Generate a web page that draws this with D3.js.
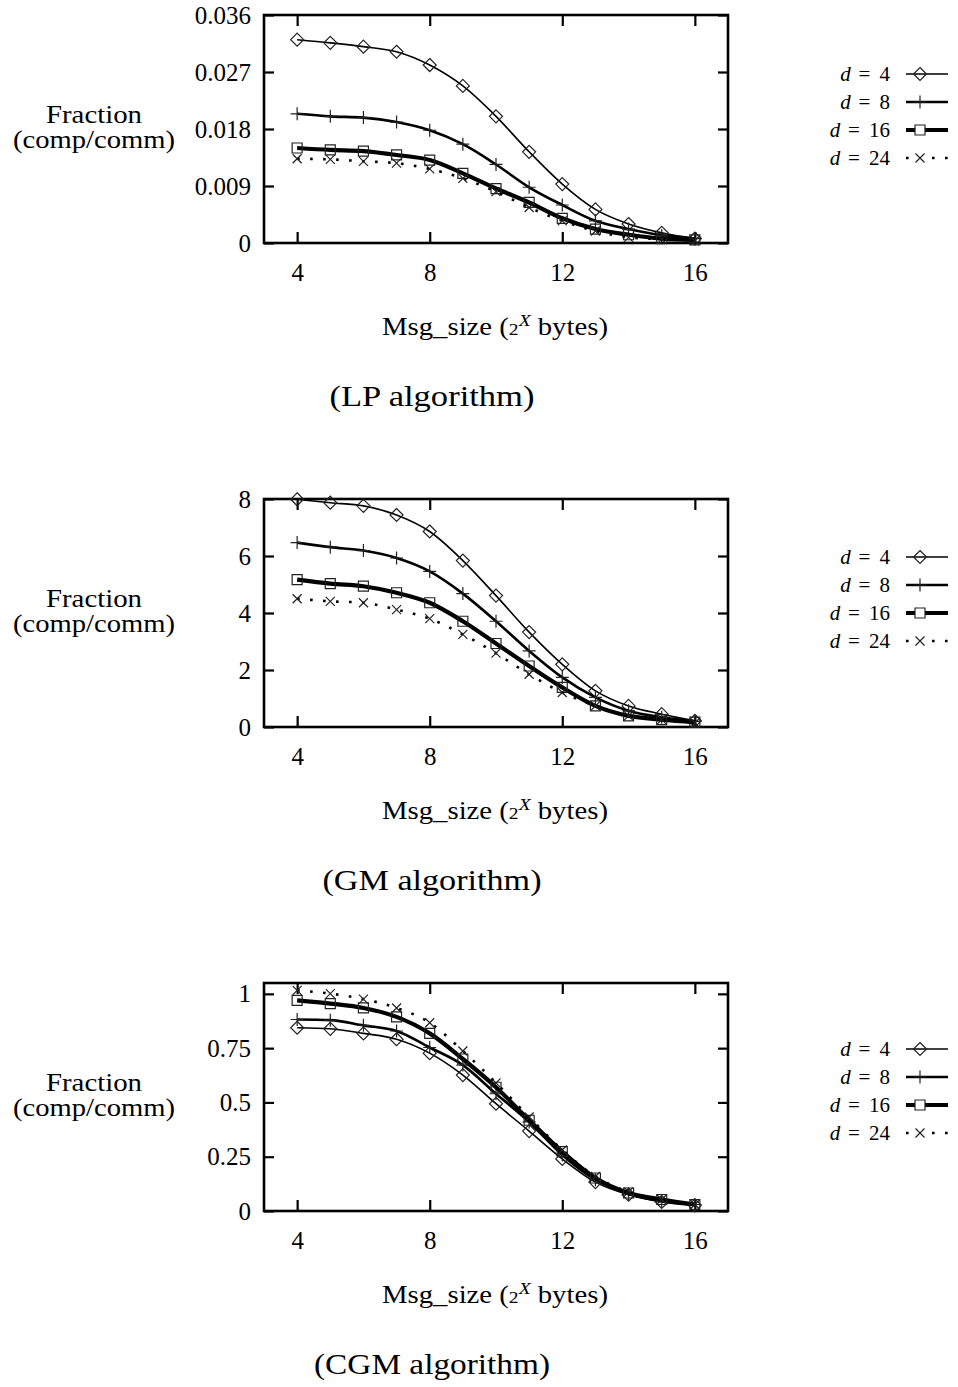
<!DOCTYPE html>
<html>
<head>
<meta charset="utf-8">
<script src="https://cdn.jsdelivr.net/npm/d3@7"></script>
<style>
  body { margin: 0; background: #fff; }
  text { font-family: "Liberation Serif", "DejaVu Serif", serif; fill: #000; }
</style>
</head>
<body>
<script>
var width = 958,
  height = 1387;

// x values: message size exponent
var msgSizes = [4, 5, 6, 7, 8, 9, 10, 11, 12, 13, 14, 15, 16];
var xTicks = [4, 8, 12, 16];

// LP algorithm
var lpD4 = [0.0321, 0.0316, 0.0310, 0.0302, 0.0281, 0.0248, 0.0200, 0.0144, 0.0093, 0.0053, 0.0030, 0.0016, 0.0007];
var lpD8 = [0.0204, 0.0200, 0.0198, 0.0191, 0.0178, 0.0156, 0.0124, 0.0088, 0.0060, 0.0035, 0.0022, 0.0012, 0.0007];
var lpD16 = [0.0150, 0.0147, 0.0145, 0.0139, 0.0131, 0.0110, 0.0086, 0.0064, 0.0039, 0.0022, 0.0013, 0.0007, 0.0005];
var lpD24 = [0.0133, 0.0132, 0.0129, 0.0126, 0.0117, 0.0102, 0.0081, 0.0056, 0.0035, 0.0019, 0.0009, 0.0006, 0.0004];
var lpTicks = [0, 0.009, 0.018, 0.027, 0.036];
var lpTickLabels = ["0", "0.009", "0.018", "0.027", "0.036"];

// GM algorithm
var gmD4 = [7.99, 7.87, 7.76, 7.44, 6.86, 5.84, 4.61, 3.33, 2.20, 1.27, 0.74, 0.45, 0.22];
var gmD8 = [6.47, 6.31, 6.19, 5.93, 5.46, 4.68, 3.71, 2.67, 1.74, 1.04, 0.57, 0.34, 0.20];
var gmD16 = [5.17, 5.03, 4.94, 4.71, 4.36, 3.71, 2.93, 2.14, 1.39, 0.74, 0.39, 0.26, 0.17];
var gmD24 = [4.50, 4.41, 4.36, 4.12, 3.80, 3.25, 2.59, 1.85, 1.21, 0.74, 0.39, 0.26, 0.14];
var gmTicks = [0, 2, 4, 6, 8];
var gmTickLabels = ["0", "2", "4", "6", "8"];

// CGM algorithm
var cgmD4 = [0.844, 0.839, 0.818, 0.791, 0.727, 0.626, 0.494, 0.368, 0.240, 0.133, 0.075, 0.042, 0.026];
var cgmD8 = [0.882, 0.879, 0.855, 0.829, 0.753, 0.672, 0.540, 0.410, 0.258, 0.144, 0.079, 0.045, 0.030];
var cgmD16 = [0.970, 0.955, 0.935, 0.894, 0.818, 0.700, 0.570, 0.418, 0.273, 0.152, 0.083, 0.053, 0.030];
var cgmD24 = [1.016, 1.001, 0.976, 0.935, 0.867, 0.737, 0.590, 0.433, 0.281, 0.159, 0.088, 0.053, 0.030];
var cgmTicks = [0, 0.25, 0.5, 0.75, 1];
var cgmTickLabels = ["0", "0.25", "0.5", "0.75", "1"];

var degrees = ["4", "8", "16", "24"];
var titles = ["(LP algorithm)", "(GM algorithm)", "(CGM algorithm)"];

// build panels from the arrays above
var panels = [
  { series: [lpD4, lpD8, lpD16, lpD24], ymax: 0.036, ticks: lpTicks, labels: lpTickLabels,
    top: 15, legendY: 74, title: titles[0], titleW: 205 },
  { series: [gmD4, gmD8, gmD16, gmD24], ymax: 8, ticks: gmTicks, labels: gmTickLabels,
    top: 499, legendY: 557, title: titles[1], titleW: 219 },
  { series: [cgmD4, cgmD8, cgmD16, cgmD24], ymax: 1.05, ticks: cgmTicks, labels: cgmTickLabels,
    top: 983, legendY: 1049, title: titles[2], titleW: 236 }
];

// line styles for d = 4, 8, 16, 24
var styles = [
  { w: 1.6, dash: null, marker: "M0,-6.5L6.5,0L0,6.5L-6.5,0Z" },
  { w: 2.6, dash: null, marker: "M-6.5,0H6.5M0,-6.5V6.5" },
  { w: 4.2, dash: null, marker: "M-5,-5H5V5H-5Z" },
  { w: 2.6, dash: "2.6,10.4", marker: "M-4.5,-4.5L4.5,4.5M4.5,-4.5L-4.5,4.5" }
];

var left = 264,
  right = 728,
  boxH = 228;

var svg = d3.select("body").append("svg").attr("width", width).attr("height", height);

var x = d3.scaleLinear().domain([3, 17]).range([left, right]);

panels.forEach(function (p) {
  var bottom = p.top + boxH;
  var y = d3.scaleLinear().domain([0, p.ymax]).range([bottom, p.top]);
  var g = svg.append("g");

  // axes (ticks point inward, mirrored on the other side)
  var yAxis = d3.axisLeft(y).tickValues(p.ticks)
    .tickFormat(function (d, i) { return p.labels[i]; })
    .tickSize(-10).tickPadding(13);
  var yAxisR = d3.axisRight(y).tickValues(p.ticks).tickFormat("").tickSize(-10);
  var xAxis = d3.axisBottom(x).tickValues(xTicks).tickSize(-11).tickPadding(20);
  var xAxisT = d3.axisTop(x).tickValues(xTicks).tickFormat("").tickSize(-11);

  g.append("g").attr("transform", "translate(" + left + ",0)").call(yAxis);
  g.append("g").attr("transform", "translate(" + right + ",0)").call(yAxisR);
  g.append("g").attr("transform", "translate(0," + bottom + ")").call(xAxis);
  g.append("g").attr("transform", "translate(0," + p.top + ")").call(xAxisT);

  g.selectAll(".domain").remove();
  g.selectAll(".tick line").attr("stroke", "#000").attr("stroke-width", 2.2);
  g.selectAll(".tick text")
    .attr("font-family", '"Liberation Serif", serif')
    .attr("font-size", 25)
    .attr("fill", "#000");

  g.append("rect")
    .attr("x", left).attr("y", p.top)
    .attr("width", right - left).attr("height", boxH)
    .attr("fill", "none").attr("stroke", "#000").attr("stroke-width", 2.6);

  // series
  var line = d3.line()
    .x(function (d, i) { return x(msgSizes[i]); })
    .y(function (d) { return y(d); })
    .curve(d3.curveMonotoneX);

  p.series.forEach(function (vals, k) {
    var s = styles[k];
    g.append("path")
      .attr("d", line(vals))
      .attr("fill", "none")
      .attr("stroke", "#000")
      .attr("stroke-width", s.w)
      .attr("stroke-dasharray", s.dash);
    g.selectAll(null)
      .data(vals)
      .join("path")
      .attr("d", s.marker)
      .attr("transform", function (d, i) { return "translate(" + x(msgSizes[i]) + "," + y(d) + ")"; })
      .attr("fill", "none")
      .attr("stroke", "#222")
      .attr("stroke-width", 1.2);
  });

  // legend
  degrees.forEach(function (dg, k) {
    var ly = p.legendY + k * 28;
    var s = styles[k];
    var numW = dg.length * 10.5;
    var eqX = 890 - numW - 15;
    g.append("text")
      .attr("x", 890).attr("y", ly + 7)
      .attr("text-anchor", "end").attr("font-size", 21)
      .text(dg);
    g.append("text")
      .attr("x", eqX).attr("y", ly + 7)
      .attr("text-anchor", "middle").attr("font-size", 21)
      .text("=");
    g.append("text")
      .attr("x", eqX - 19).attr("y", ly + 7)
      .attr("text-anchor", "middle").attr("font-size", 21)
      .attr("font-style", "italic")
      .text("d");
    g.append("line")
      .attr("x1", 906).attr("x2", 948)
      .attr("y1", ly).attr("y2", ly)
      .attr("stroke", "#000")
      .attr("stroke-width", s.w)
      .attr("stroke-dasharray", s.dash);
    if (k === 3) {
      g.append("rect").attr("x", 913).attr("y", ly - 5).attr("width", 12).attr("height", 10).attr("fill", "#fff");
    }
    g.append("path")
      .attr("d", s.marker)
      .attr("transform", "translate(920," + ly + ")")
      .attr("fill", k === 2 ? "#fff" : "none")
      .attr("stroke", "#222")
      .attr("stroke-width", 1.2);
  });

  // y label
  g.append("text")
    .attr("x", 94).attr("y", p.top + 108)
    .attr("text-anchor", "middle").attr("font-size", 25)
    .attr("textLength", 96).attr("lengthAdjust", "spacingAndGlyphs")
    .text("Fraction");
  g.append("text")
    .attr("x", 94).attr("y", p.top + 133)
    .attr("text-anchor", "middle").attr("font-size", 25)
    .attr("textLength", 162).attr("lengthAdjust", "spacingAndGlyphs")
    .text("(comp/comm)");

  // x label
  var xl = g.append("text")
    .attr("x", 495).attr("y", bottom + 92)
    .attr("text-anchor", "middle").attr("font-size", 25)
    .attr("textLength", 226).attr("lengthAdjust", "spacingAndGlyphs");
  xl.append("tspan").text("Msg_size (");
  xl.append("tspan").attr("font-size", 17).text("2");
  xl.append("tspan").attr("font-size", 17).attr("font-style", "italic").attr("dy", -9).text("X");
  xl.append("tspan").attr("dy", 9).text(" bytes)");

  // title
  g.append("text")
    .attr("x", 432).attr("y", bottom + 163)
    .attr("text-anchor", "middle").attr("font-size", 30)
    .attr("textLength", p.titleW).attr("lengthAdjust", "spacingAndGlyphs")
    .text(p.title);
});
</script>
</body>
</html>
